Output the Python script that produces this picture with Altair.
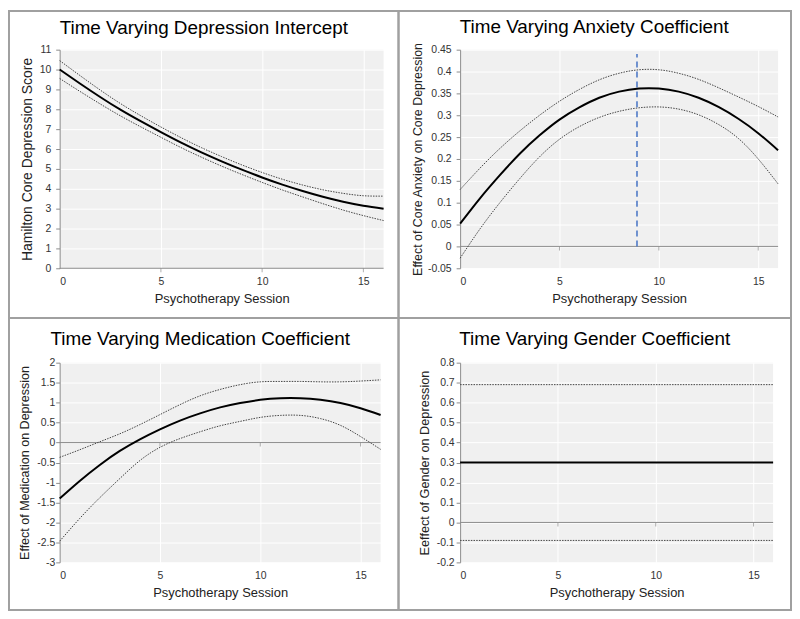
import altair as alt
import pandas as pd

# ---------------- data ----------------
sessions = list(range(17))

dep_est = [10.0, 9.3, 8.62, 7.98, 7.4, 6.85, 6.32, 5.83, 5.38, 4.96, 4.57, 4.21, 3.89, 3.6, 3.35, 3.15, 3.0]
dep_upper = [10.45, 9.7, 8.97, 8.29, 7.68, 7.11, 6.57, 6.07, 5.62, 5.2, 4.82, 4.48, 4.19, 3.95, 3.77, 3.65, 3.63]
dep_lower = [9.55, 8.9, 8.27, 7.67, 7.12, 6.59, 6.07, 5.59, 5.14, 4.72, 4.32, 3.94, 3.59, 3.25, 2.93, 2.65, 2.4]

anx_est = [0.052, 0.11, 0.163, 0.212, 0.254, 0.29, 0.318, 0.34, 0.354, 0.361, 0.361, 0.354, 0.34, 0.319, 0.292, 0.259, 0.22]
anx_upper = [0.13, 0.179, 0.224, 0.264, 0.3, 0.332, 0.359, 0.381, 0.396, 0.404, 0.404, 0.396, 0.382, 0.363, 0.342, 0.32, 0.296]
anx_lower = [-0.027, 0.04, 0.1, 0.155, 0.205, 0.245, 0.274, 0.295, 0.309, 0.317, 0.319, 0.314, 0.301, 0.279, 0.247, 0.2, 0.143]
anx_peak_session = 8.9
anx_peak_top = 0.44

med_est = [-1.4, -0.96, -0.56, -0.21, 0.08, 0.33, 0.55, 0.73, 0.88, 0.99, 1.07, 1.11, 1.11, 1.07, 0.99, 0.86, 0.69]
med_upper = [-0.37, -0.18, 0.02, 0.22, 0.45, 0.7, 0.95, 1.17, 1.33, 1.45, 1.52, 1.53, 1.53, 1.52, 1.52, 1.54, 1.57]
med_lower = [-2.47, -1.9, -1.38, -0.9, -0.45, -0.12, 0.1, 0.27, 0.42, 0.53, 0.63, 0.68, 0.68, 0.6, 0.43, 0.15, -0.17]

gen_sessions = [0, 16]
gen_est = [0.3, 0.3]
gen_upper = [0.69, 0.69]
gen_lower = [-0.09, -0.09]

x_ticks = [0, 5, 10, 15]
axis_tick_sessions = [5, 10, 15]
dep_ticks = [0, 1, 2, 3, 4, 5, 6, 7, 8, 9, 10, 11]
anx_ticks = [-0.05, 0, 0.05, 0.1, 0.15, 0.2, 0.25, 0.3, 0.35, 0.4, 0.45]
med_ticks = [-3, -2.5, -2, -1.5, -1, -0.5, 0, 0.5, 1, 1.5, 2]
gen_ticks = [-0.2, -0.1, 0, 0.1, 0.2, 0.3, 0.4, 0.5, 0.6, 0.7, 0.8]

FONT = "Liberation Sans"
GRAY = "#8c8c8c"
BORDER = "#a0a0a0"


def panel(title, ytitle, xs, est, up, lo, ticks, fmt, w, h, box, title_dx,
          title_off, ytitle_pad, ytitle_size, label_pad, vline=None):
    est_df = pd.DataFrame({"session": xs, "value": est})
    bnd_df = pd.DataFrame({
        "session": xs + xs,
        "value": up + lo,
        "series": ["Upper"] * len(xs) + ["Lower"] * len(xs),
    })
    tick_df = pd.DataFrame({"session": axis_tick_sessions, "value": [0] * len(axis_tick_sessions)})
    zero_df = pd.DataFrame({"session": [0], "value": [0]})

    label_expr = (f"datum.value < 0 ? '-' + format(-datum.value, '{fmt}') "
                  f": format(datum.value, '{fmt}')")
    x = alt.X("session:Q",
              scale=alt.Scale(domain=[0, 16], nice=False, zero=False),
              axis=alt.Axis(values=x_ticks, title="Psychotherapy Session",
                            domain=False, ticks=False, labelPadding=8,
                            titlePadding=6, grid=True, gridColor="white",
                            format="d", labelOverlap=False, titleFontSize=13))
    y = alt.Y("value:Q",
              scale=alt.Scale(domain=[ticks[0], ticks[-1]], nice=False, zero=False),
              axis=alt.Axis(values=ticks, title=ytitle, labelExpr=label_expr,
                            domain=True, domainColor=GRAY, ticks=True,
                            tickColor=GRAY, tickSize=4, labelPadding=label_pad,
                            titlePadding=ytitle_pad, grid=True,
                            gridColor="white", labelOverlap=False,
                            titleFontSize=ytitle_size))

    x0, x1, y0, y1 = box
    dummy = alt.Data(values=[{}])
    border = alt.Chart(dummy).mark_rect(
        fillOpacity=0, stroke=BORDER, strokeWidth=2
    ).encode(x=alt.value(x0), x2=alt.value(x1), y=alt.value(y0), y2=alt.value(y1))
    ttl = alt.Chart(dummy).mark_text(
        text=title, font=FONT, fontSize=19, color="black", align="center",
        baseline="alphabetic"
    ).encode(x=alt.value(w / 2 + title_dx), y=alt.value(-title_off))

    zero = alt.Chart(zero_df).mark_rule(color=GRAY, strokeWidth=1).encode(
        y=y, x=alt.value(0), x2=alt.value(w))
    tks = alt.Chart(tick_df).mark_tick(
        orient="vertical", size=4, thickness=1, color=GRAY, yOffset=2
    ).encode(x=x, y=y)
    bnds = alt.Chart(bnd_df).mark_line(
        color="#444444", strokeWidth=1, strokeDash=[1.5, 1.2], interpolate="natural"
    ).encode(x=x, y=y, detail="series:N")
    main = alt.Chart(est_df).mark_line(
        color="black", strokeWidth=2, interpolate="natural"
    ).encode(x=x, y=y)

    layers = [zero, tks, bnds]
    if vline is not None:
        vdf = pd.DataFrame({"session": [vline[0]], "value": [0], "top": [vline[1]]})
        layers.append(
            alt.Chart(vdf).mark_rule(color="#4472c4", strokeWidth=1.5,
                                     strokeDash=[6, 4]).encode(
                x=x, y=y, y2="top:Q")
        )
    layers += [main, border, ttl]
    return alt.layer(*layers).properties(width=w, height=h)


tl = panel("Time Varying Depression Intercept", "Hamilton Core Depression Score",
           sessions, dep_est, dep_upper, dep_lower, dep_ticks, "d",
           326, 220, (-51, 341, -39, 270), -18, 16, 5, 14, 5)
tr = panel("Time Varying Anxiety Coefficient", "Effect of Core Anxiety on Core Depression",
           sessions, anx_est, anx_upper, anx_lower, anx_ticks, ".2~f",
           320, 220, (-62, 333, -39, 270), -25, 17, 3, 12.5, 5,
           vline=(anx_peak_session, anx_peak_top))
bl = panel("Time Varying Medication Coefficient", "Effect of Medication on Depression",
           sessions, med_est, med_upper, med_lower, med_ticks, ".1~f",
           323, 201, (-51, 341, -45, 249), -20, 18, 5, 12.6, 1)
br = panel("Time Varying Gender Coefficient", "Eeffect of Gender on Depression",
           gen_sessions, gen_est, gen_upper, gen_lower, gen_ticks, ".1~f",
           315, 201, (-62, 333, -45, 249), -22, 18, 5, 12.8, 2)

chart = alt.concat(
    tl, tr, bl, br, columns=2, spacing={"row": 95, "column": 77},
    bounds="flush", align="all"
).properties(padding=0, background="white").configure_view(
    fill="#f0f0f0", stroke=None
).configure_axis(
    labelFont=FONT, titleFont=FONT, labelFontSize=10.5,
    labelColor="#333333", titleColor="#222222", titleFontWeight="normal",
    gridWidth=1, labelOverlap=False
)

chart.save("out.html", embed_options={"renderer": "svg", "actions": False})
